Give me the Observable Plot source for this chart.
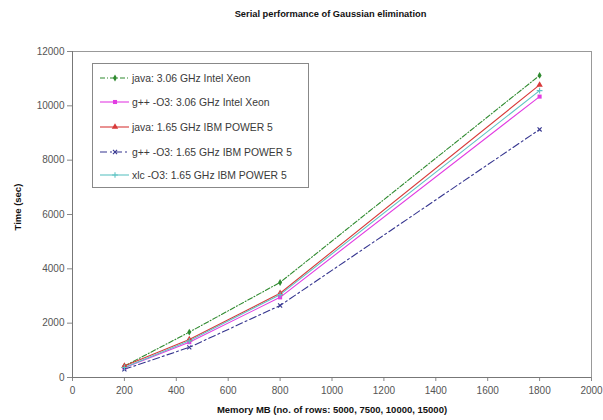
<!DOCTYPE html>
<html>
<head>
<meta charset="utf-8">
<script src="https://cdn.jsdelivr.net/npm/d3@7"></script>
<script src="https://cdn.jsdelivr.net/npm/@observablehq/plot@0.6"></script>
<style>
  html, body { margin: 0; padding: 0; background: #fff; }
  #wrap { position: relative; width: 603px; height: 420px; font-family: "Liberation Sans", Arial, sans-serif; }
  #title { height: 30px; line-height: 29px; text-align: center; font-weight: bold; font-size: 9.3px; color: #111; padding-left: 58px; box-sizing: border-box; }
  #legend { position: absolute; left: 92px; top: 63px; width: 217px; height: 125px; border: 1px solid #888; box-sizing: border-box; background: #fff; }
  .item { position: absolute; left: 7px; height: 14px; display: flex; align-items: center; font-size: 10.4px; color: #3a3a3a; white-space: nowrap; }
  .item svg { margin-right: 2px; }
</style>
</head>
<body>
<div id="wrap">
  <div id="title">Serial performance of Gaussian elimination</div>
  <div id="chart"></div>
  <div id="legend"></div>
</div>
<script>
// ---- data ----
const memoryMB = [200, 450, 800, 1800];
const seriesNames = [
  "java: 3.06 GHz Intel Xeon",
  "g++ -O3: 3.06 GHz Intel Xeon",
  "java: 1.65 GHz IBM POWER 5",
  "g++ -O3: 1.65 GHz IBM POWER 5",
  "xlc -O3: 1.65 GHz IBM POWER 5"
];
const javaXeon  = [420, 1670, 3500, 11120];
const gppXeon   = [360, 1300, 2950, 10340];
const javaPower = [420, 1400, 3100, 10770];
const gppPower  = [300, 1110, 2650, 9130];
const xlcPower  = [370, 1350, 3050, 10560];
const xTicks = [0, 200, 400, 600, 800, 1000, 1200, 1400, 1600, 1800, 2000];
const yTicks = [0, 2000, 4000, 6000, 8000, 10000, 12000];
const xLabel = "Memory MB (no. of rows: 5000, 7500, 10000, 15000)";
const yLabel = "Time (sec)";

// ---- styles (kept separate from data) ----
const styles = [
  {color: "#2f8a2f", dash: "5,2,1,2", symbol: "diamond", r: 2.1, filled: true},
  {color: "#e23ce2", dash: null, symbol: "square", r: 2.3, filled: true},
  {color: "#d83a3a", dash: null, symbol: "triangle", r: 2.4, filled: true},
  {color: "#35358f", dash: "7,3,2,3", symbol: "times", r: 2.0, filled: false},
  {color: "#5fc4c4", dash: null, symbol: "plus", r: 2.0, filled: false}
];

const seriesValues = [javaXeon, gppXeon, javaPower, gppPower, xlcPower];
const table = seriesNames.flatMap((s, i) =>
  memoryMB.map((m, j) => ({series: s, mem: m, time: seriesValues[i][j]})));

const marks = [];
seriesNames.forEach((s, i) => {
  const st = styles[i];
  const rows = table.filter(d => d.series === s);
  marks.push(Plot.line(rows, {x: "mem", y: "time", stroke: st.color, strokeWidth: 1.1, strokeDasharray: st.dash || undefined}));
});
seriesNames.forEach((s, i) => {
  const st = styles[i];
  const rows = table.filter(d => d.series === s);
  marks.push(Plot.dot(rows, st.filled
    ? {x: "mem", y: "time", symbol: () => st.symbol, r: st.r, fill: st.color, stroke: "none"}
    : {x: "mem", y: "time", symbol: () => st.symbol, r: st.r, stroke: st.color, strokeWidth: 1.1, fill: "none"}));
});

const fmt = d3.format("d");
const chart = Plot.plot({
  width: 603,
  height: 390,
  marginLeft: 72,
  marginRight: 12,
  marginTop: 21,
  marginBottom: 43,
  style: {fontFamily: "'Liberation Sans', Arial, sans-serif", fontSize: "10px", color: "#555", background: "#fff"},
  x: {domain: [0, 2000]},
  y: {domain: [0, 12000]},
  symbol: {domain: ["diamond", "square", "triangle", "times", "plus"], range: ["diamond", "square", "triangle", "times", "plus"]},
  marks: [
    Plot.frame({stroke: "#999"}),
    Plot.axisX({ticks: xTicks, tickFormat: fmt, tickSize: 4, tickPadding: 5, label: null, stroke: "#888", fill: "#555"}),
    Plot.axisY({ticks: yTicks, tickFormat: fmt, tickSize: 5, tickPadding: 3, label: null, stroke: "#888", fill: "#555"}),
    Plot.ruleX([0], {stroke: "#777"}),
    Plot.ruleY([0], {stroke: "#777"}),
    ...marks,
    Plot.text([xLabel], {frameAnchor: "bottom", dy: 35, fontWeight: "bold", fontSize: 9.5, fill: "#111"}),
    Plot.text([yLabel], {frameAnchor: "left", rotate: -90, dx: -55, dy: 16, fontWeight: "bold", fontSize: 9.5, fill: "#111"})
  ]
});
document.getElementById("chart").appendChild(chart);

// ---- legend ----
const legend = d3.select("#legend");
const symMap = {diamond: d3.symbolDiamond, square: d3.symbolSquare, triangle: d3.symbolTriangle, times: d3.symbolTimes, plus: d3.symbolPlus};
const rowTops = [7, 31, 56, 81, 104];
seriesNames.forEach((s, i) => {
  const st = styles[i];
  const item = legend.append("div").attr("class", "item").style("top", rowTops[i] + "px");
  const svg = item.append("svg").attr("width", 30).attr("height", 10);
  svg.append("line").attr("x1", 0).attr("x2", 29).attr("y1", 5).attr("y2", 5)
    .attr("stroke", st.color).attr("stroke-width", 1.1)
    .attr("stroke-dasharray", st.dash);
  const size = Math.PI * st.r * st.r;
  svg.append("path").attr("transform", "translate(15,5)")
    .attr("d", d3.symbol(symMap[st.symbol], size)())
    .attr("fill", st.filled ? st.color : "none")
    .attr("stroke", st.filled ? "none" : st.color).attr("stroke-width", 1.1);
  item.append("span").text(s);
});
</script>
</body>
</html>
